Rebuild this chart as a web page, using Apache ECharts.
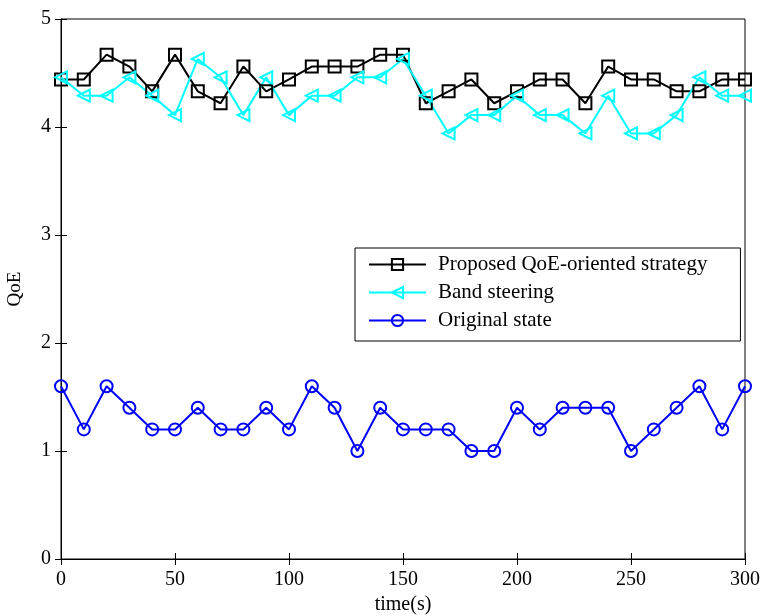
<!DOCTYPE html>
<html>
<head>
<meta charset="utf-8">
<script src="https://cdn.jsdelivr.net/npm/echarts@6/dist/echarts.min.js"></script>
<style>
  html, body { margin: 0; padding: 0; background: #fff; }
  #chart { width: 761px; height: 616px; }
</style>
</head>
<body>
<div id="chart"></div>
<script>
  // time axis, every 10 s
  const times = [0, 10, 20, 30, 40, 50, 60, 70, 80, 90, 100, 110, 120, 130, 140, 150,
                 160, 170, 180, 190, 200, 210, 220, 230, 240, 250, 260, 270, 280, 290, 300];

  const proposed = [4.44, 4.44, 4.67, 4.56, 4.33, 4.67, 4.33, 4.22, 4.56, 4.33, 4.44, 4.56, 4.56, 4.56, 4.67, 4.67,
                    4.22, 4.33, 4.44, 4.22, 4.33, 4.44, 4.44, 4.22, 4.56, 4.44, 4.44, 4.33, 4.33, 4.44, 4.44];
  const bandSteering = [4.46, 4.29, 4.29, 4.46, 4.29, 4.11, 4.63, 4.46, 4.11, 4.46, 4.11, 4.29, 4.29, 4.46, 4.46, 4.63,
                        4.29, 3.94, 4.11, 4.11, 4.29, 4.11, 4.11, 3.94, 4.29, 3.94, 3.94, 4.11, 4.46, 4.29, 4.29];
  const original = [1.6, 1.2, 1.6, 1.4, 1.2, 1.2, 1.4, 1.2, 1.2, 1.4, 1.2, 1.6, 1.4, 1.0, 1.4, 1.2,
                    1.2, 1.2, 1.0, 1.0, 1.4, 1.2, 1.4, 1.4, 1.4, 1.0, 1.2, 1.4, 1.6, 1.2, 1.6];

  const seriesNames = ['Proposed QoE-oriented strategy', 'Band steering', 'Original state'];
  const colors = ['#000000', '#00ffff', '#0000ff'];

  const font = 'Liberation Serif';
  const pair = arr => times.map((t, i) => [t, arr[i]]);

  function makeSeries(name, data, color, symbol, rotate) {
    return {
      name: name,
      type: 'line',
      data: pair(data),
      symbol: symbol,
      symbolSize: 12,
      symbolRotate: rotate || 0,
      color: color,
      lineStyle: { color: color, width: 2 },
      itemStyle: { color: 'rgba(255,255,255,0)', borderColor: color, borderWidth: 2 },
      emphasis: { disabled: true },
      animation: false
    };
  }

  const chart = echarts.init(document.getElementById('chart'));
  chart.setOption({
    backgroundColor: '#fff',
    grid: {
      left: 61, right: 16, top: 19, bottom: 57,
      outerBoundsMode: 'none',
      show: true, borderColor: '#000', borderWidth: 1
    },
    legend: {
      orient: 'vertical',
      left: 355, top: 248,
      padding: [6, 33, 10, 13],
      itemWidth: 57, itemHeight: 14, itemGap: 7,
      backgroundColor: '#fff',
      borderColor: '#000', borderWidth: 1,
      textStyle: { fontFamily: font, fontSize: 21, color: '#000', padding: [0, 0, 0, 7] },
      data: seriesNames.map((n, i) => ({
        name: n,
        itemStyle: { color: 'rgba(255,255,255,0)', borderColor: colors[i], borderWidth: 2 }
      }))
    },
    xAxis: [{
      type: 'value', min: 0, max: 300, interval: 50,
      name: 'time(s)', nameLocation: 'middle', nameGap: 36,
      nameTextStyle: { fontFamily: font, fontSize: 20, color: '#000' },
      axisLine: { lineStyle: { color: '#000', width: 1 } },
      axisTick: { inside: true, length: 6, lineStyle: { color: '#000' } },
      axisLabel: { fontFamily: font, fontSize: 20, color: '#000', margin: 11 },
      splitLine: { show: false }
    }, {
      type: 'value', min: 0, max: 300, interval: 50, position: 'top',
      axisLine: { show: false },
      axisTick: { inside: true, length: 6, lineStyle: { color: '#000' } },
      axisLabel: { show: false },
      splitLine: { show: false }
    }],
    yAxis: [{
      type: 'value', min: 0, max: 5, interval: 1,
      name: 'QoE', nameLocation: 'middle', nameGap: 36,
      nameTextStyle: { fontFamily: font, fontSize: 19, color: '#000' },
      axisLine: { show: true, lineStyle: { color: '#000', width: 1 } },
      axisTick: { show: true, inside: true, length: 6, lineStyle: { color: '#000' } },
      axisLabel: { fontFamily: font, fontSize: 20, color: '#000', margin: 10 },
      splitLine: { show: false }
    }, {
      type: 'value', min: 0, max: 5, interval: 1, position: 'right',
      axisLine: { show: false },
      axisTick: { show: true, inside: true, length: 6, lineStyle: { color: '#000' } },
      axisLabel: { show: false },
      splitLine: { show: false }
    }],
    series: [
      makeSeries(seriesNames[0], proposed, colors[0], 'rect'),
      makeSeries(seriesNames[1], bandSteering, colors[1], 'triangle', 90),
      makeSeries(seriesNames[2], original, colors[2], 'circle')
    ]
  });
</script>
</body>
</html>
